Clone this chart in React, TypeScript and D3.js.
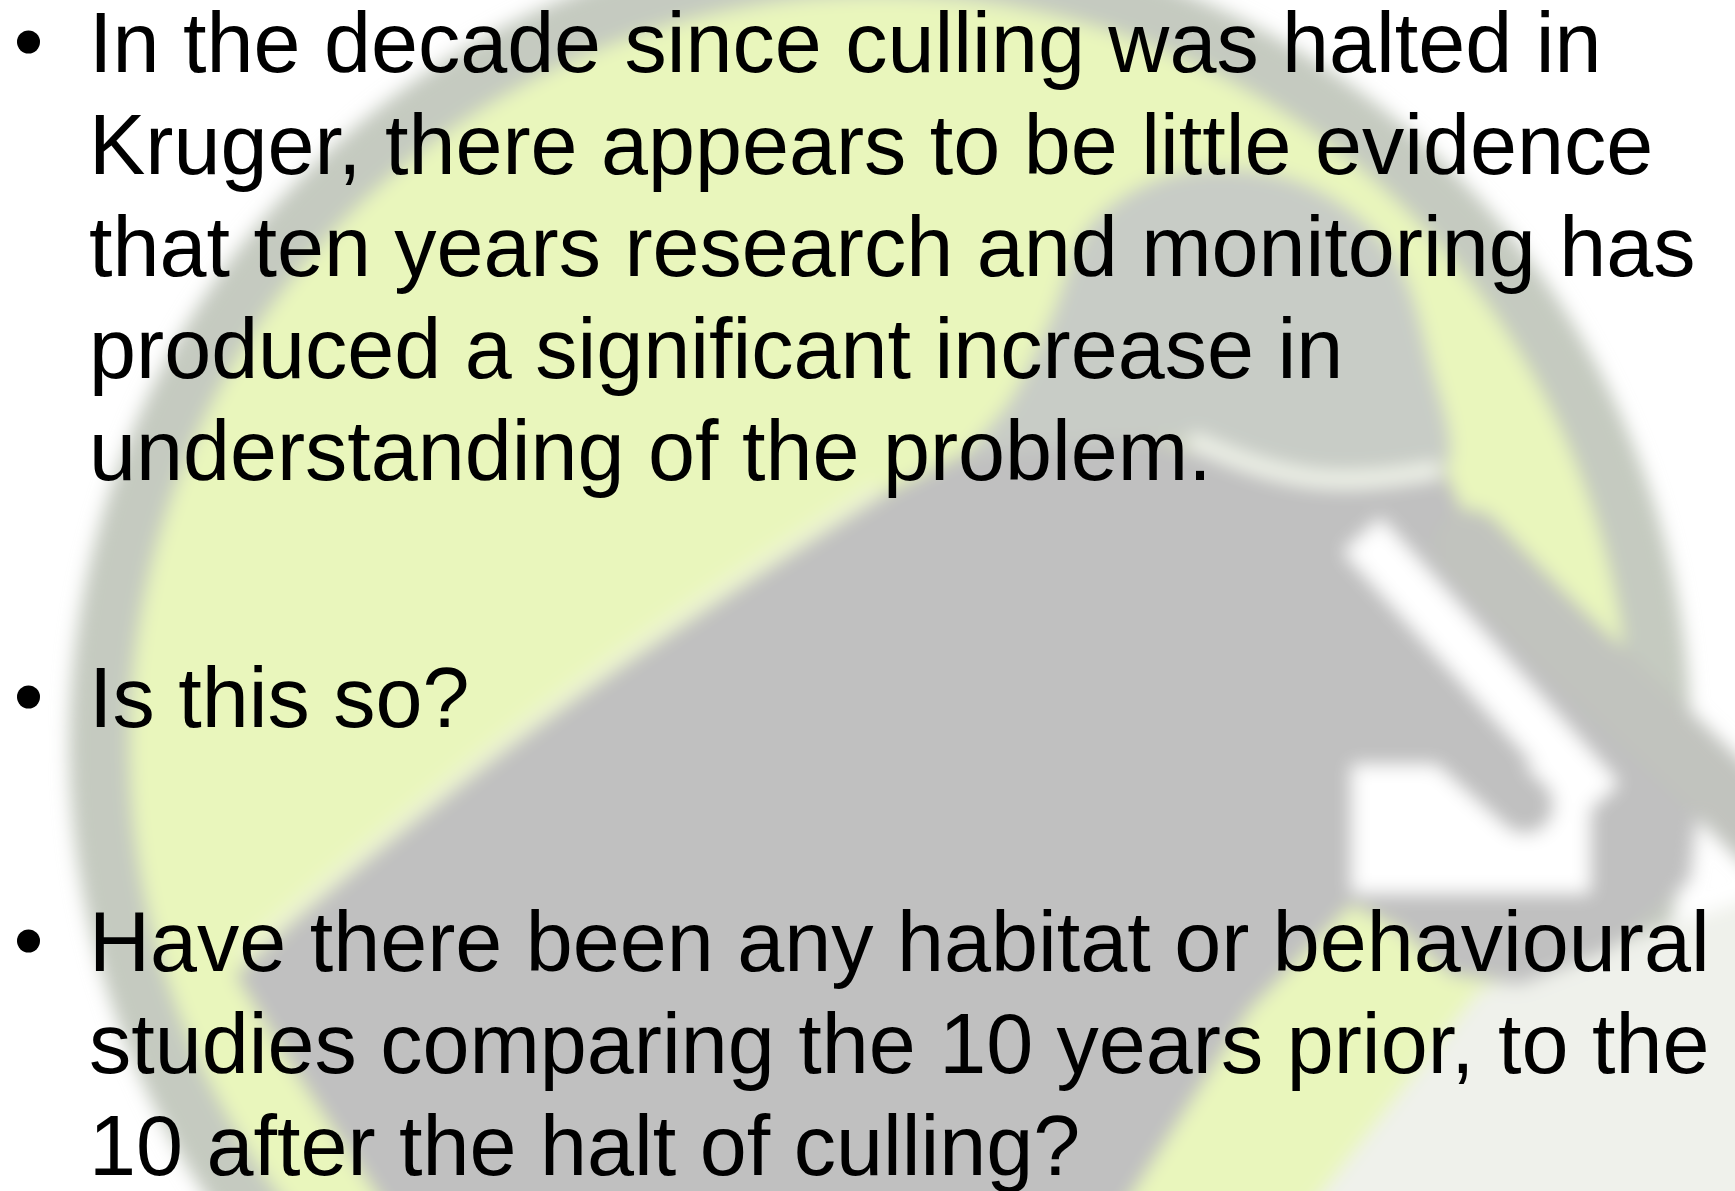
import React from "react";
import * as d3 from "d3";

// ---- content ----
const bullet1Lines = [
  "In the decade since culling was halted in",
  "Kruger, there appears to be little evidence",
  "that ten years research and monitoring has",
  "produced a significant increase in",
  "understanding of the problem.",
];
const bullet2Lines = ["Is this so?"];
const bullet3Lines = [
  "Have there been any habitat or behavioural",
  "studies comparing the 10 years prior, to the",
  "10 after the halt of culling?",
];
const paragraphs = [bullet1Lines, bullet2Lines, bullet3Lines];

// ---- layout ----
const W = 1735;
const H = 1191;
const FONT = 84.5;
const LINE_H = 102;
const TEXT_X = 89;
const BULLET_X = 28.5;
const BULLET_R = 11.5;
const PARA_START = [72, 727, 971];

// ---- background logo (blurred) geometry ----
const ringC: [number, number] = [880, 745];
const ringR = 780;
const domePts: [number, number][] = [
  [960, 470], [1010, 400], [1050, 320], [1090, 225], [1180, 172], [1300, 182],
  [1390, 250], [1430, 360], [1445, 470], [1300, 475], [1150, 440],
];
const bodyPts: [number, number][] = [
  [870, 500], [960, 455], [1150, 440], [1310, 480], [1445, 470], [1490, 570],
  [1560, 650], [1640, 720], [1700, 790], [1690, 880], [1610, 950], [1520, 985],
  [1450, 975], [1400, 930], [1352, 905], [1250, 1010], [1090, 1260], [420, 1260],
  [300, 1080], [235, 975], [360, 860], [498, 748],
];
const trunkPts: [number, number][] = [[1470, 545], [1560, 640], [1660, 730], [1770, 840]];
const paleBR: [number, number][] = [[1480, 990], [1760, 895], [1760, 1260], [1270, 1260]];

export default function App() {
  const line = d3.line<[number, number]>().curve(d3.curveLinearClosed);
  const smoothClosed = d3.line<[number, number]>().curve(d3.curveCatmullRomClosed.alpha(0.5));
  const openLine = d3.line<[number, number]>().curve(d3.curveBasis);

  return (
    <svg
      width={W}
      height={H}
      viewBox={`0 0 ${W} ${H}`}
      style={{ position: "absolute", left: 0, top: 0, display: "block", background: "#ffffff" }}
    >
      <defs>
        <filter id="blur" x="-10%" y="-10%" width="120%" height="120%">
          <feGaussianBlur stdDeviation="9" />
        </filter>
        <clipPath id="page">
          <rect x={0} y={0} width={W} height={H} />
        </clipPath>
      </defs>
      <rect x={0} y={0} width={W} height={H} fill="#ffffff" />
      <g clipPath="url(#page)">
        <g filter="url(#blur)">
          <circle cx={ringC[0]} cy={ringC[1]} r={ringR} fill="none" stroke="#c5cac0" strokeWidth={62} />
          <circle cx={ringC[0]} cy={ringC[1]} r={ringR - 30} fill="#e9f6bc" />
          <path d={line(paleBR) || ""} fill="#eff1eb" />
          <path d={smoothClosed(domePts) || ""} fill="#c8ccc6" />
          <path d={line(bodyPts) || ""} fill="#c0c0c0" />
          {/* trunk reaching the right edge */}
          <path d={openLine(trunkPts) || ""} fill="none" stroke="#c1c3be" strokeWidth={72} strokeLinecap="round" />
          {/* light edge along the body's diagonal */}
          <path d={openLine([[880, 488], [560, 690], [240, 955]]) || ""} fill="none" stroke="#eef4d6" strokeWidth={16} opacity={0.85} />
          {/* white cut-outs between trunk and tusk */}
          <rect x={1352} y={765} width={238} height={128} fill="#ffffff" />
          <path d={openLine([[1362, 535], [1480, 665], [1600, 800]]) || ""} fill="none" stroke="#ffffff" strokeWidth={50} />
          <path d={openLine([[1352, 650], [1440, 730], [1525, 805]]) || ""} fill="none" stroke="#c0c0c0" strokeWidth={58} strokeLinecap="round" />
          {/* highlight line on the head */}
          <path d={openLine([[1190, 440], [1310, 490], [1440, 470]]) || ""} fill="none" stroke="#f3f6ec" strokeWidth={16} />
        </g>
      </g>
      <g fontFamily="'Liberation Sans', Arial, Helvetica, sans-serif" fontSize={FONT} fill="#000000">
        {paragraphs.map((lines, pi) => (
          <g key={pi}>
            <circle cx={BULLET_X} cy={PARA_START[pi] - 30} r={BULLET_R} fill="#000000" />
            {lines.map((t, li) => (
              <text key={li} x={TEXT_X} y={PARA_START[pi] + li * LINE_H}>
                {t}
              </text>
            ))}
          </g>
        ))}
      </g>
    </svg>
  );
}
